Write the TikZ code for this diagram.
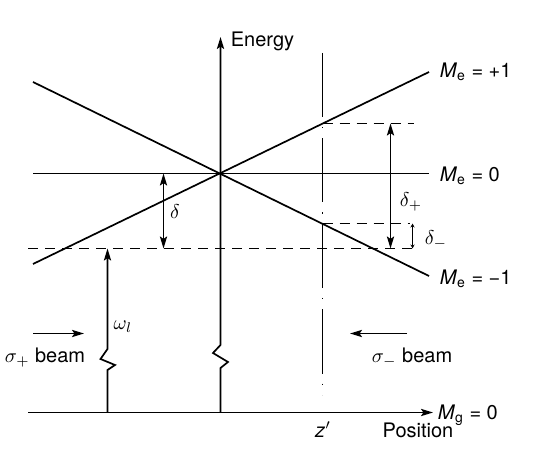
\documentclass[tikz,border=0pt]{standalone}
\usepackage{fontspec}
\setmainfont{TeX Gyre Heros}
\usetikzlibrary{arrows.meta}
\newcommand\Mlab[2]{\textit{M}$_{\mathrm{#1}}$ = #2}
\begin{document}
\begin{tikzpicture}[x=0.5pt,y=-0.5pt,line width=0.85pt,
    guide/.style={dash pattern=on 5pt off 3.5pt},
    zline/.style={dash pattern=on 32pt off 5pt on 0.75pt off 5pt},
    arr/.style={-{Stealth[length=6pt,width=3.6pt,inset=1.2pt]}},
    darr/.style={{Stealth[length=6pt,width=3.6pt,inset=1.2pt]}-{Stealth[length=6pt,width=3.6pt,inset=1.2pt]}},
    sarr/.style={{Stealth[length=2pt,width=2pt]}-{Stealth[length=2pt,width=2pt]}},
    lab/.style={inner sep=0pt}]
\useasboundingbox (0,0) rectangle (534,458);
\coordinate (zup) at (322.5,123.5);
\coordinate (zdn) at (322.5,223.5);
\coordinate (wl) at (107.5,248.5);
\draw (33,173.5) -- (429,173.5);
\draw (33,264) -- (429,72);
\draw (33,82) -- (429,276);
\draw[guide] (28,248.5) -- (413,248.5);
\draw[guide] (zup) -- (414,123.5);
\draw[guide] (zdn) -- (410,223.5);
\draw[zline] (322.5,53) -- (322.5,395);
\draw[arr] (28,412.5) -- (433,412.5);
\draw[arr] (220.5,412.5) -- (220.5,368) -- (228,362) -- (213,353) -- (220.5,345) -- (220.5,37);
\draw[arr] (107.5,412.5) -- (107.5,370) -- (115,365) -- (100.5,359) -- (107.5,349) -- (wl);
\draw[darr] (163.5,173.5) -- (163.5,248.5);
\draw[darr] (390.5,123.5) -- (390.5,248.5);
\draw[sarr,line width=0.5pt] (412.5,223.5) -- (412.5,248.5);
\draw[arr] (33,333.5) -- (84,333.5);
\draw[arr] (407,333.5) -- (350,333.5);
\node[lab,anchor=base west] (energy) at (230,47) {Energy};
\node[lab,anchor=base west] (mplus) at (439,78) {\Mlab{e}{+1}};
\node[lab,anchor=base west] (mzero) at (439,182) {\Mlab{e}{0}};
\node[lab,anchor=base west] (mminus) at (439,285) {\Mlab{e}{−1}};
\node[lab,anchor=base west] (mg) at (437,419) {\Mlab{g}{0}};
\node[lab] (dlt) at (175,212) {$\delta$};
\node[lab] (dplus) at (411,202) {$\delta_+$};
\node[lab] (dminus) at (436,240) {$\delta_-$};
\node[lab] (omg) at (123,327) {$\omega_l$};
\node[lab,anchor=base] (bplus) at (45,363) {$\sigma_+$ beam};
\node[lab,anchor=base] (bminus) at (412,363) {$\sigma_-$ beam};
\node[lab,anchor=base] (zp) at (323,437) {\textit{z}$'$};
\node[lab,anchor=base] (pos) at (418,437) {Position};
\end{tikzpicture}
\end{document}
